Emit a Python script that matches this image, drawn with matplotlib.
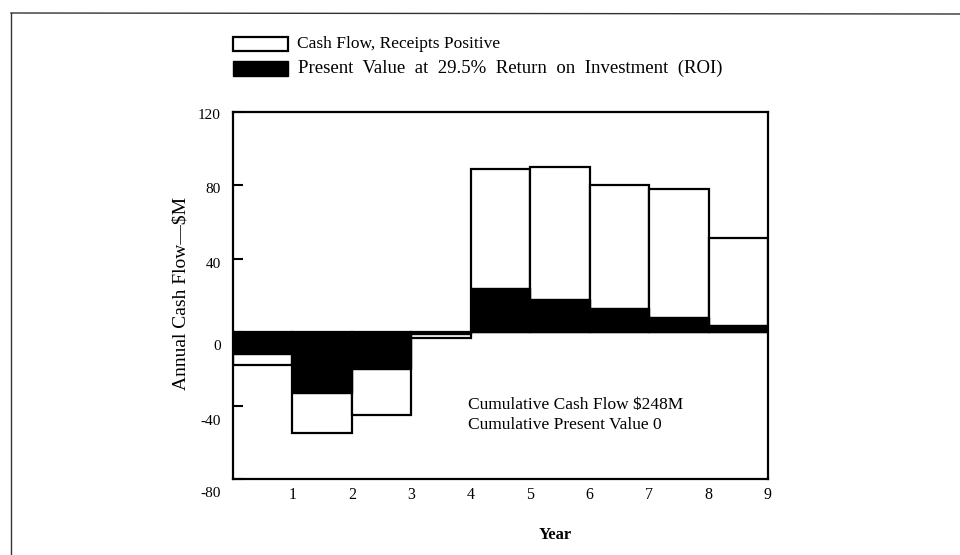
import matplotlib
matplotlib.use("Agg")
import matplotlib.pyplot as plt
from matplotlib.patches import Rectangle
from matplotlib.lines import Line2D
from matplotlib.transforms import ScaledTranslation

# Data
years = [0, 1, 2, 3, 4, 5, 6, 7, 8]
cash_flow = [-18, -55, -45, -3, 89, 90, 80, 78, 51.5]
present_value = [-12, -33, -20, -1, 24, 18, 13, 8.5, 4]
xtick_labels = ["1", "2", "3", "4", "5", "6", "7", "8", "9"]
yticks = [-80, -40, 0, 40, 80, 120]
legend_labels = ["Cash Flow, Receipts Positive",
                 "Present  Value  at  29.5%  Return  on  Investment  (ROI)"]
note_lines = ["Cumulative Cash Flow $248M", "Cumulative Present Value 0"]

plt.rcParams['font.family'] = ['Liberation Serif', 'DejaVu Serif']

W, H = 960, 555
fig = plt.figure(figsize=(W / 100, H / 100), dpi=100)

def fx(x):
    return x / W

def fy(y):
    return 1 - y / H

ax = fig.add_axes([fx(233), fy(479), fx(768) - fx(233), fy(112) - fy(479)])

ax.bar(years, cash_flow, width=1, align='edge', facecolor='white',
       edgecolor='black', linewidth=1.6, zorder=2)
ax.bar(years, present_value, width=1, align='edge', facecolor='black',
       edgecolor='black', linewidth=1.0, zorder=3)

ax.set_xlim(0, 9)
ax.set_ylim(-80, 120)
ax.set_xticks([1, 2, 3, 4, 5, 6, 7, 8, 9])
ax.set_xticklabels(xtick_labels)
ax.set_yticks(yticks)
ax.set_yticklabels([str(v) for v in yticks])
ax.tick_params(axis='y', direction='in', length=7, width=1.5, labelsize=11, pad=9)
ax.tick_params(axis='x', length=0, labelsize=11.5, pad=6)
for s in ax.spines.values():
    s.set_linewidth(1.6)

# the scanned tick labels sit a little below their ticks
label_offsets_px = [13, 14, 13, 4, 3, 2]
for lab, off in zip(ax.get_yticklabels(), label_offsets_px):
    lab.set_transform(lab.get_transform() + ScaledTranslation(0, -off / 100, fig.dpi_scale_trans))

# Axis labels
fig.text(fx(181), fy(293), "Annual Cash Flow\u2014$M", rotation=90,
         ha='center', va='center', fontsize=14)
fig.text(fx(555), fy(535), "Year", ha='center', va='center',
         fontsize=12, fontweight='bold')

# Annotation
ax.text(0.44, (479 - 415) / 367, note_lines[0] + "\n" + note_lines[1],
        transform=ax.transAxes, ha='left', va='center', fontsize=12.5,
        linespacing=1.3)

# Legend (manual)
fig.add_artist(Rectangle((fx(233), fy(51)), fx(288) - fx(233), fy(37) - fy(51),
                         transform=fig.transFigure, facecolor='white',
                         edgecolor='black', linewidth=1.6))
fig.add_artist(Rectangle((fx(233), fy(76)), fx(288) - fx(233), fy(61) - fy(76),
                         transform=fig.transFigure, facecolor='black',
                         edgecolor='black', linewidth=1.0))
fig.text(fx(297), fy(44), legend_labels[0], ha='left', va='center', fontsize=12.5)
fig.text(fx(298), fy(68), legend_labels[1], ha='left', va='center', fontsize=13.5)

# Page border lines (scan frame)
fig.add_artist(Line2D([fx(11), fx(960)], [fy(13), fy(14)], transform=fig.transFigure,
                      color='#333333', linewidth=1.0))
fig.add_artist(Line2D([fx(11), fx(11)], [fy(13), fy(555)], transform=fig.transFigure,
                      color='#333333', linewidth=1.0))

fig.savefig("out.png", dpi=100)
